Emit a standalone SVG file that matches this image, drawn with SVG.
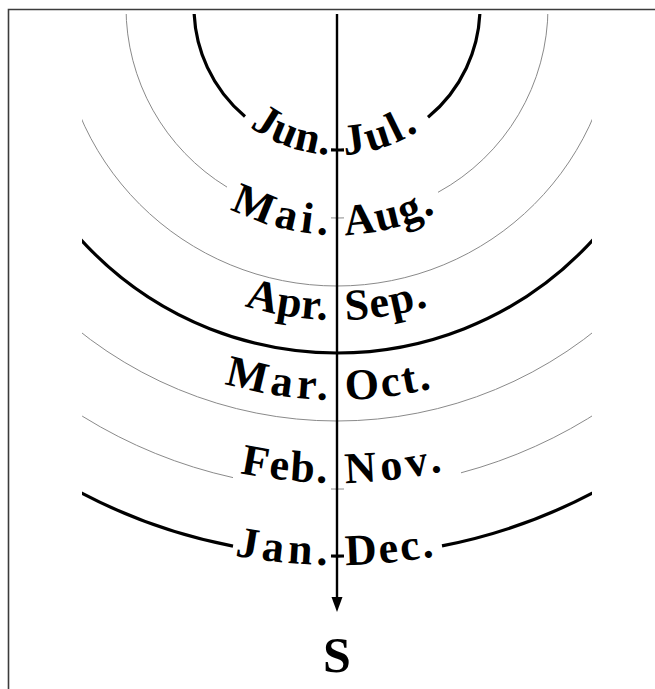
<svg xmlns="http://www.w3.org/2000/svg" xmlns:xlink="http://www.w3.org/1999/xlink" width="655" height="689" viewBox="0 0 655 689">
  <style>
    .thin { fill: none; stroke: #8a8a8a; stroke-width: 1; }
    .thick { fill: none; stroke: #000; stroke-width: 3.2; }
    .lbl { font-family: "Liberation Serif", "DejaVu Serif", serif; font-weight: bold; font-size: 44px; fill: #000; }
    .big { font-family: "Liberation Serif", "DejaVu Serif", serif; font-weight: bold; font-size: 50px; fill: #000; }
    .frame { fill: none; stroke: #3c3c3c; stroke-width: 1.6; }
  </style>
  <defs>
    <clipPath id="clip"><rect x="82" y="14" width="510" height="675"/></clipPath>
    <path id="p148" d="M189,7 A148,148 0 0 0 485,7"/>
    <path id="p228" d="M109,7 A228,228 0 0 0 565,7"/>
    <path id="p313" d="M24,7 A313,313 0 0 0 650,7"/>
    <path id="p393" d="M-56,7 A393,393 0 0 0 730,7"/>
    <path id="p476" d="M-139,7 A476,476 0 0 0 813,7"/>
    <path id="p558" d="M-221,7 A558,558 0 0 0 895,7"/>
  </defs>

  <g id="frame">
    <path class="frame" d="M8.5,689 L8.5,9.5 L655,9.5"/>
  </g>

  <g id="arcs" clip-path="url(#clip)">
    <path class="thick" d="M194,7 A143,143 0 0 0 245,116.5"/>
    <path class="thick" d="M331,149.9 A143,143 0 0 0 344,149.8"/>
    <path class="thick" d="M428,117.3 A143,143 0 0 0 480,7"/>
    <path class="thin" d="M126,7 A211,211 0 0 0 227,187.1"/>
    <path class="thin" d="M331,217.9 A211,211 0 0 0 344,217.9"/>
    <path class="thin" d="M438,192.3 A211,211 0 0 0 548,7"/>
    <path class="thin" d="M58,7 A279,279 0 0 0 616,7"/>
    <path class="thick" d="M-9,7 A346,346 0 0 0 683,7"/>
    <path class="thin" d="M-77,7 A414,414 0 0 0 751,7"/>
    <path class="thin" d="M-145,7 A482,482 0 0 0 233,477.6"/>
    <path class="thin" d="M331,489 A482,482 0 0 0 344,489"/>
    <path class="thin" d="M461,472.8 A482,482 0 0 0 819,7"/>
    <path class="thick" d="M-212,7 A549,549 0 0 0 233,546.1"/>
    <path class="thick" d="M331,556 A549,549 0 0 0 344,556"/>
    <path class="thick" d="M442,545.9 A549,549 0 0 0 886,7"/>
  </g>

  <g id="connectors">
    <line x1="337" y1="14" x2="337" y2="598" stroke="#000" stroke-width="2.4"/>
    <path d="M331.5,597 L342.5,597 L337,612 Z" fill="#000"/>
  </g>

  <g id="label-jun-jul" class="lbl">
    <text letter-spacing="1"><textPath xlink:href="#p148" href="#p148" startOffset="225" text-anchor="end">Jun.</textPath></text>
    <text letter-spacing="3"><textPath xlink:href="#p148" href="#p148" startOffset="240" text-anchor="start">Jul.</textPath></text>
  </g>
  <g id="label-mai-aug" class="lbl">
    <text letter-spacing="5"><textPath xlink:href="#p228" href="#p228" startOffset="353.5" text-anchor="end">Mai.</textPath></text>
    <text letter-spacing="1.5"><textPath xlink:href="#p228" href="#p228" startOffset="366" text-anchor="start">Aug.</textPath></text>
  </g>
  <g id="label-apr-sep" class="lbl">
    <text letter-spacing="0.5"><textPath xlink:href="#p313" href="#p313" startOffset="482" text-anchor="end">Apr.</textPath></text>
    <text letter-spacing="1.5"><textPath xlink:href="#p313" href="#p313" startOffset="500" text-anchor="start">Sep.</textPath></text>
  </g>
  <g id="label-mar-oct" class="lbl">
    <text letter-spacing="5"><textPath xlink:href="#p393" href="#p393" startOffset="612.5" text-anchor="end">Mar.</textPath></text>
    <text letter-spacing="2.5"><textPath xlink:href="#p393" href="#p393" startOffset="626" text-anchor="start">Oct.</textPath></text>
  </g>
  <g id="label-feb-nov" class="lbl">
    <text letter-spacing="2"><textPath xlink:href="#p476" href="#p476" startOffset="739.5" text-anchor="end">Feb.</textPath></text>
    <text letter-spacing="4.5"><textPath xlink:href="#p476" href="#p476" startOffset="756" text-anchor="start">Nov.</textPath></text>
  </g>
  <g id="label-jan-dec" class="lbl">
    <text letter-spacing="4.5"><textPath xlink:href="#p558" href="#p558" startOffset="871" text-anchor="end">Jan.</textPath></text>
    <text letter-spacing="2.5"><textPath xlink:href="#p558" href="#p558" startOffset="885" text-anchor="start">Dec.</textPath></text>
  </g>

  <g id="south">
    <text class="big" x="337" y="672" text-anchor="middle">S</text>
  </g>
</svg>
